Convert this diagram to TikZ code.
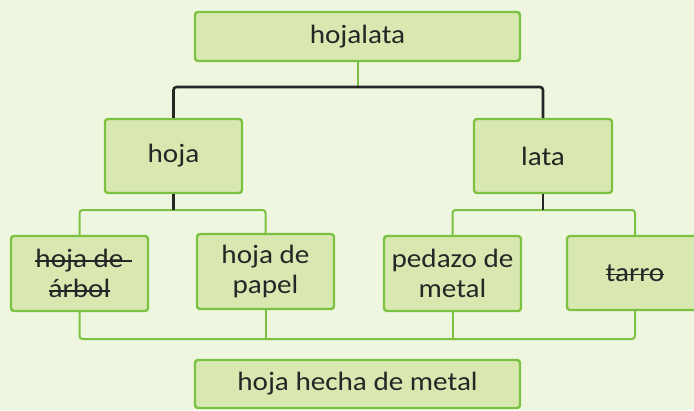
\documentclass[tikz,border=0pt]{standalone}
\usepackage{fontspec}
\setmainfont{Carlito}[FakeStretch=1.1]
\newsavebox{\strkbox}
\newcommand{\strk}[2][0pt]{\sbox{\strkbox}{#2}\rlap{\raisebox{0.22em}{\rule{\dimexpr\wd\strkbox+#1\relax}{1.6pt}}}\usebox{\strkbox}}
\definecolor{bgc}{HTML}{EEF6E0}
\definecolor{boxfill}{HTML}{D8E8B0}
\definecolor{boxline}{HTML}{7CC242}
\definecolor{txt}{HTML}{262626}
\tikzset{
  box/.style={draw=boxline, line width=2.4pt, fill=boxfill, rounded corners=3pt,
    inner sep=0pt, align=center, text=txt,
    font=\fontsize{26.5}{30}\selectfont},
  gline/.style={draw=boxline, line width=2pt, rounded corners=3pt},
  bline/.style={draw=txt, line width=2.6pt, rounded corners=3pt},
}
\begin{document}
\begin{tikzpicture}[x=1pt,y=-1pt]
\path[fill=bgc] (0,0) rectangle (694,410);
\useasboundingbox (0,0) rectangle (694,410);
% coordinates of junctions
\coordinate (j1) at (357.5,87);
\coordinate (j2) at (173.5,210);
\coordinate (j3) at (543,210);
\coordinate (jb) at (357.5,339);
% nodes
\node[box, minimum width=325pt, minimum height=49pt] (top) at (357.5,36.5) {hojalata};
\node[box, minimum width=137pt, minimum height=74pt] (hoja) at (173.5,156) {hoja};
\node[box, minimum width=138pt, minimum height=74pt] (lata) at (543,156) {lata};
\node[box, minimum width=137pt, minimum height=75pt] (arbol) at (79.5,273.5) {\strk[8pt]{hoja de}\\\strk{árbol}};
\node[box, minimum width=137pt, minimum height=75pt] (papel) at (265.5,271.5) {hoja de\\papel};
\node[box, minimum width=137pt, minimum height=75pt] (pedazo) at (452.5,273.5) {pedazo de\\metal};
\node[box, minimum width=136pt, minimum height=74pt] (tarro) at (635,273) {\strk{tarro}};
\node[box, minimum width=325pt, minimum height=48pt] (bottom) at (357.5,384) {hoja hecha de metal};
% connectors
\draw[gline] (top.south) -- (j1);
\draw[bline] (hoja.north) |- (j1) -| (lata.north);
\draw[gline] (arbol.north) |- (j2) -| (papel.north);
\draw[gline] (pedazo.north) |- (j3) -| (tarro.north);
\draw[bline] (hoja.south) -- (j2);
\draw[bline] (lata.south) -- (j3);
\draw[gline] (arbol.south) |- (jb) -| (tarro.south);
\draw[gline] (papel.south) -- (papel.south |- jb);
\draw[gline] (pedazo.south) -- (pedazo.south |- jb);
\end{tikzpicture}
\end{document}
